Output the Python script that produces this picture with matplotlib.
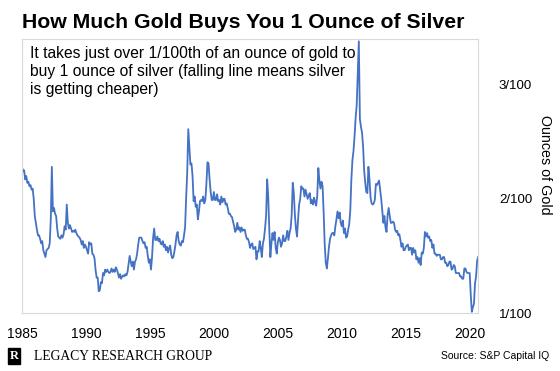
import numpy as np
import matplotlib.pyplot as plt

# ounces of gold (in hundredths) needed to buy 1 oz of silver, monthly from Jan 1985
ratio = [
    2.28, 2.24, 2.25, 2.17, 2.20, 2.14, 2.15, 2.11, 2.12, 2.08, 2.09, 2.00,  # 1985
    1.85, 1.79, 1.73, 1.68, 1.68, 1.65, 1.61, 1.63, 1.55, 1.52, 1.49, 1.55,  # 1986
    1.56, 1.57, 1.61, 1.82, 2.28, 1.89, 1.92, 1.87, 1.85, 1.74, 1.67, 1.66,  # 1987
    1.65, 1.68, 1.66, 1.69, 1.76, 1.73, 1.95, 1.79, 1.74, 1.77, 1.74, 1.71,  # 1988
    1.72, 1.71, 1.73, 1.70, 1.68, 1.67, 1.66, 1.64, 1.60, 1.63, 1.57, 1.60,  # 1989
    1.58, 1.55, 1.52, 1.62, 1.60, 1.61, 1.52, 1.51, 1.48, 1.38, 1.31, 1.31,  # 1990
    1.19, 1.20, 1.27, 1.26, 1.35, 1.33, 1.38, 1.36, 1.38, 1.36, 1.35, 1.36,  # 1991
    1.39, 1.36, 1.38, 1.36, 1.40, 1.38, 1.35, 1.31, 1.34, 1.30, 1.32, 1.33,  # 1992
    1.32, 1.34, 1.33, 1.36, 1.43, 1.50, 1.45, 1.41, 1.45, 1.38, 1.45, 1.47,  # 1993
    1.52, 1.60, 1.66, 1.66, 1.66, 1.63, 1.61, 1.62, 1.57, 1.58, 1.50, 1.44,  # 1994
    1.47, 1.38, 1.49, 1.66, 1.74, 1.64, 1.64, 1.67, 1.63, 1.65, 1.61, 1.60,  # 1995
    1.63, 1.58, 1.60, 1.55, 1.58, 1.53, 1.57, 1.59, 1.51, 1.48, 1.49, 1.54,  # 1996
    1.60, 1.68, 1.71, 1.63, 1.60, 1.59, 1.63, 1.62, 1.68, 1.75, 2.01, 2.23,  # 1997
    2.61, 2.46, 2.30, 2.31, 2.20, 1.98, 2.02, 1.93, 1.95, 1.82, 1.89, 1.98,  # 1998
    1.99, 1.98, 2.02, 1.96, 1.99, 2.13, 2.32, 2.31, 2.17, 2.06, 1.99, 1.99,  # 1999
    2.06, 1.99, 1.99, 2.04, 1.98, 1.99, 1.95, 2.02, 1.97, 2.00, 2.00, 1.95,  # 2000
    1.96, 1.92, 1.87, 1.87, 1.85, 1.84, 1.80, 1.76, 1.71, 1.73, 1.79, 1.73,  # 2001
    1.75, 1.71, 1.75, 1.72, 1.73, 1.73, 1.68, 1.65, 1.65, 1.62, 1.57, 1.60,  # 2002
    1.61, 1.56, 1.57, 1.58, 1.47, 1.54, 1.54, 1.63, 1.57, 1.49, 1.61, 1.65,  # 2003
    1.74, 1.85, 2.17, 2.02, 1.73, 1.49, 1.61, 1.70, 1.64, 1.71, 1.57, 1.52,  # 2004
    1.62, 1.66, 1.64, 1.58, 1.61, 1.68, 1.63, 1.63, 1.67, 1.72, 1.64, 1.70,  # 2005
    1.74, 1.86, 2.14, 2.05, 1.86, 1.74, 1.67, 1.82, 1.95, 2.00, 2.11, 2.09,  # 2006
    2.09, 2.02, 2.08, 2.04, 2.00, 2.03, 2.05, 1.96, 1.99, 1.95, 2.01, 1.97,  # 2007
    1.94, 2.03, 2.27, 2.16, 2.09, 2.15, 2.11, 1.88, 1.60, 1.44, 1.39, 1.48,  # 2008
    1.58, 1.65, 1.68, 1.70, 1.70, 1.68, 1.76, 1.82, 1.89, 1.83, 1.88, 1.79,  # 2009
    1.76, 1.81, 1.70, 1.74, 1.66, 1.67, 1.73, 1.78, 1.90, 2.17, 2.34, 2.42,  # 2010
    2.55, 2.71, 2.82, 3.09, 3.38, 2.70, 2.63, 2.58, 2.46, 2.25, 2.14, 2.06,  # 2011
    2.05, 2.28, 2.17, 2.01, 1.96, 1.95, 1.96, 1.99, 2.13, 2.12, 2.14, 2.16,  # 2012
    2.08, 2.00, 1.89, 1.79, 1.85, 1.75, 1.71, 1.86, 1.92, 1.85, 1.79, 1.79,  # 2013
    1.80, 1.79, 1.73, 1.71, 1.72, 1.68, 1.69, 1.64, 1.58, 1.61, 1.55, 1.55,  # 2014
    1.58, 1.59, 1.60, 1.55, 1.57, 1.57, 1.51, 1.57, 1.53, 1.55, 1.47, 1.49,  # 2015
    1.44, 1.48, 1.42, 1.53, 1.52, 1.57, 1.71, 1.67, 1.70, 1.66, 1.67, 1.63,  # 2016
    1.64, 1.57, 1.60, 1.52, 1.52, 1.50, 1.51, 1.51, 1.51, 1.47, 1.47, 1.49,  # 2017
    1.49, 1.44, 1.44, 1.41, 1.42, 1.45, 1.45, 1.38, 1.39, 1.42, 1.41, 1.35,  # 2018
    1.35, 1.35, 1.35, 1.32, 1.32, 1.30, 1.30, 1.39, 1.39, 1.36, 1.35, 1.35,  # 2019
    1.35, 1.16, 1.01, 1.05, 1.08, 1.26, 1.32, 1.46, 1.49,                    # 2020
]
years = 1985 + np.arange(len(ratio)) / 12

year_ticks = [1985, 1990, 1995, 2000, 2005, 2010, 2015, 2020]
y_ticks = [1, 2, 3]
y_labels = ["1/100", "2/100", "3/100"]

fig = plt.figure(figsize=(5.6, 3.71), dpi=100)
ax = fig.add_axes([22 / 560, 58 / 371, 456 / 560, 274 / 371])

ax.plot(years, ratio, color="#4472C4", lw=1.3)
ax.set_xlim(1985, 2020.65)
ax.set_ylim(1.0, 3.4)

for s in ax.spines.values():
    s.set_color("#D9D9D9")
    s.set_linewidth(0.8)

ax.set_xticks(year_ticks)
ax.set_xticklabels([str(y) for y in year_ticks], fontsize=10, family="Liberation Sans")
ax.tick_params(axis="x", length=0, pad=10)
ax.yaxis.tick_right()
ax.set_yticks(y_ticks)
ax.set_yticklabels(y_labels, fontsize=9.5, family="Liberation Sans")
ax.tick_params(axis="y", length=0, pad=15)

fig.text(545 / 560, 1 - 165 / 371, "Ounces of Gold", rotation=270, ha="center", va="center",
         fontsize=10.3, family="Liberation Sans")

ax.text(0.0175, 0.975,
        "It takes just over 1/100th of an ounce of gold to\n"
        "buy 1 ounce of silver (falling line means silver\n"
        "is getting cheaper)",
        transform=ax.transAxes, ha="left", va="top", fontsize=11.25,
        family="Liberation Sans", linespacing=1.25)

fig.text(22 / 560, 1 - 22 / 371, "How Much Gold Buys You 1 Ounce of Silver",
         ha="left", va="center", fontsize=15.3, fontweight="bold", family="Liberation Sans")

# footer
fig.text(14 / 560, 1 - 356 / 371, "R", ha="center", va="center", color="white",
         fontsize=9, fontweight="bold", family="Liberation Serif",
         bbox=dict(facecolor="black", edgecolor="black", boxstyle="square,pad=0.15"))
fig.text(34 / 560, 1 - 356 / 371, "LEGACY RESEARCH GROUP", ha="left", va="center",
         fontsize=9.8, family="Liberation Serif")
fig.text(549 / 560, 1 - 356 / 371, "Source: S&P Capital IQ", ha="right", va="center",
         fontsize=7.5, family="Liberation Sans")

fig.savefig("out.png", dpi=100)
